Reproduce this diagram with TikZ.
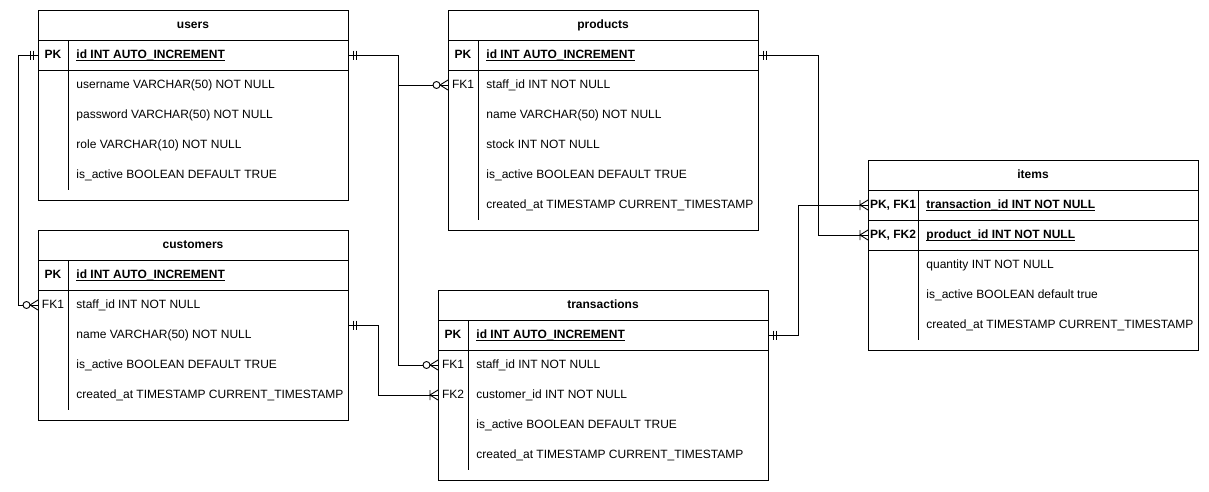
\documentclass[tikz,border=0pt]{standalone}
\usepackage{fontspec}
\setmainfont{Liberation Sans}
\newcommand{\keyfield}[1]{\setbox0\hbox{\bfseries #1}\rlap{\rule[-2.2pt]{\wd0}{0.6pt}}\box0}
\begin{document}
\begin{tikzpicture}[x=1pt,y=-1pt,line width=0.9pt,font=\fontsize{12}{14}\selectfont,
  tbl/.style={draw,anchor=north west,inner sep=0pt,outer sep=0pt},
  key/.style={inner sep=0pt,text height=9pt,text depth=2.5pt},
  field/.style={anchor=west,inner sep=0pt,text height=9pt,text depth=2.5pt},
  one/.pic={\draw (5,-4.5) -- (5,4.5) (8,-4.5) -- (8,4.5);},
  zeromany/.pic={\draw (0,-5) -- (8,0) -- (0,5); \draw[fill=white] (11.5,0) circle[radius=3.5];},
  onemany/.pic={\draw (0,-5) -- (8,0) -- (0,5) (8,-5) -- (8,5);}]
\useasboundingbox (0,0) rectangle (1209,491);

% users
\node[tbl,minimum width=310pt,minimum height=190pt] (users) at (38,10) {};
\draw (38,40) -- (348,40) (38,70) -- (348,70) (68,40) -- (68,190);
\node[key] (users-title) at (193,25) {\textbf{users}};
\node[key] (users-pk) at (53,55) {\textbf{PK}};
\node[field] (users-id) at (76,55) {\keyfield{id INT AUTO\_INCREMENT}};
\foreach \txt [count=\i] in {username VARCHAR(50) NOT NULL, password VARCHAR(50) NOT NULL,
    role VARCHAR(10) NOT NULL, is\_active BOOLEAN DEFAULT TRUE}
  \node[field] (users-\i) at (76,55+30*\i) {\txt};

% customers
\node[tbl,minimum width=310pt,minimum height=190pt] (customers) at (38,230) {};
\draw (38,260) -- (348,260) (38,290) -- (348,290) (68,260) -- (68,410);
\node[key] (customers-title) at (193,245) {\textbf{customers}};
\node[key] (customers-pk) at (53,275) {\textbf{PK}};
\node[key] (customers-fk1) at (53,305) {FK1};
\node[field] (customers-id) at (76,275) {\keyfield{id INT AUTO\_INCREMENT}};
\foreach \txt [count=\i] in {staff\_id INT NOT NULL, name VARCHAR(50) NOT NULL,
    is\_active BOOLEAN DEFAULT TRUE, created\_at TIMESTAMP CURRENT\_TIMESTAMP}
  \node[field] (customers-\i) at (76,275+30*\i) {\txt};

% products
\node[tbl,minimum width=310pt,minimum height=220pt] (products) at (448,10) {};
\draw (448,40) -- (758,40) (448,70) -- (758,70) (478,40) -- (478,220);
\node[key] (products-title) at (603,25) {\textbf{products}};
\node[key] (products-pk) at (463,55) {\textbf{PK}};
\node[key] (products-fk1) at (463,85) {FK1};
\node[field] (products-id) at (486,55) {\keyfield{id INT AUTO\_INCREMENT}};
\foreach \txt [count=\i] in {staff\_id INT NOT NULL, name VARCHAR(50) NOT NULL, stock INT NOT NULL,
    is\_active BOOLEAN DEFAULT TRUE, created\_at TIMESTAMP CURRENT\_TIMESTAMP}
  \node[field] (products-\i) at (486,55+30*\i) {\txt};

% transactions
\node[tbl,minimum width=330pt,minimum height=190pt] (transactions) at (438,290) {};
\draw (438,320) -- (768,320) (438,350) -- (768,350) (468,320) -- (468,470);
\node[key] (transactions-title) at (603,305) {\textbf{transactions}};
\node[key] (transactions-pk) at (453,335) {\textbf{PK}};
\node[key] (transactions-fk1) at (453,365) {FK1};
\node[key] (transactions-fk2) at (453,395) {FK2};
\node[field] (transactions-id) at (476,335) {\keyfield{id INT AUTO\_INCREMENT}};
\foreach \txt [count=\i] in {staff\_id INT NOT NULL, customer\_id INT NOT NULL,
    is\_active BOOLEAN DEFAULT TRUE, created\_at TIMESTAMP CURRENT\_TIMESTAMP}
  \node[field] (transactions-\i) at (476,335+30*\i) {\txt};

% items
\node[tbl,minimum width=330pt,minimum height=190pt] (items) at (868,160) {};
\draw (868,190) -- (1198,190) (868,220) -- (1198,220) (868,250) -- (1198,250) (918,190) -- (918,340);
\node[key] (items-title) at (1033,175) {\textbf{items}};
\node[key] (items-fk1) at (893,205) {\textbf{PK, FK1}};
\node[key] (items-fk2) at (893,235) {\textbf{PK, FK2}};
\node[field] (items-tid) at (926,205) {\keyfield{transaction\_id INT NOT NULL}};
\node[field] (items-pid) at (926,235) {\keyfield{product\_id INT NOT NULL}};
\foreach \txt [count=\i] in {quantity INT NOT NULL, is\_active BOOLEAN default true,
    created\_at TIMESTAMP CURRENT\_TIMESTAMP}
  \node[field] (items-\i) at (926,235+30*\i) {\txt};

% relations
\draw (users.east |- users-pk) -- ++(50,0) |- (products.west |- products-fk1);
\draw (users.east |- users-pk) -- ++(50,0) |- (transactions.west |- transactions-fk1);
\draw (users.west |- users-pk) -- ++(-20,0) |- (customers.west |- customers-fk1);
\draw (customers.east) -- ++(30,0) |- (transactions.west |- transactions-fk2);
\draw (products.east |- products-pk) -- ++(60,0) |- (items.west |- items-fk2);
\draw (transactions.east |- transactions-pk) -- ++(30,0) |- (items.west |- items-fk1);

\pic at (users.east |- users-pk) {one};
\pic[xscale=-1] at (users.west |- users-pk) {one};
\pic at (customers.east) {one};
\pic at (products.east |- products-pk) {one};
\pic at (transactions.east |- transactions-pk) {one};
\pic[xscale=-1] at (products.west |- products-fk1) {zeromany};
\pic[xscale=-1] at (transactions.west |- transactions-fk1) {zeromany};
\pic[xscale=-1] at (customers.west |- customers-fk1) {zeromany};
\pic[xscale=-1] at (transactions.west |- transactions-fk2) {onemany};
\pic[xscale=-1] at (items.west |- items-fk1) {onemany};
\pic[xscale=-1] at (items.west |- items-fk2) {onemany};
\end{tikzpicture}
\end{document}
